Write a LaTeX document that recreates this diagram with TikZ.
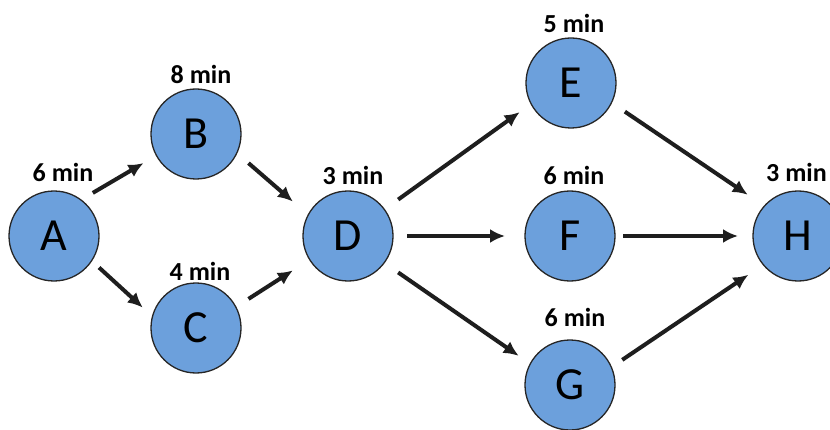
\documentclass[tikz,border=0pt]{standalone}
\usepackage{fontspec}
\setmainfont{Carlito}
\usetikzlibrary{calc,arrows.meta}
\definecolor{nodeblue}{RGB}{108,160,220}
\definecolor{arrowgray}{RGB}{30,30,30}
\tikzset{
  task/.style={circle,draw=black!85,line width=1.3pt,fill=nodeblue,minimum size=90pt,inner sep=0pt,font=\fontsize{46}{46}\selectfont},
  lbl/.style={font=\fontsize{26}{26}\selectfont\bfseries,inner sep=0pt},
  arr/.style={draw=arrowgray,line width=4pt,-{Latex[length=15pt,width=14pt]}}
}
\begin{document}
\begin{tikzpicture}[x=1pt,y=1pt]
\useasboundingbox[fill=white] (0,0) rectangle (830,429);
\begin{scope}
\clip (0,0) rectangle (830,429);
\node[task] (A) at (54,193) {A};
\node[task] (B) at (196,295) {B};
\node[task] (C) at (196,101) {C};
\node[task] (D) at (348,193) {D};
\node[task] (E) at (571,346) {E};
\node[task] (F) at (570,193) {F};
\node[task] (G) at (570,44) {G};
\node[task] (H) at (798,193) {H};
\node[lbl] (lA) at (63,257) {6 min};
\node[lbl] (lB) at (201,355) {8 min};
\node[lbl] (lC) at (200,158) {4 min};
\node[lbl] (lD) at (353,254) {3 min};
\node[lbl] (lE) at (574,406) {5 min};
\node[lbl] (lF) at (574,254) {6 min};
\node[lbl] (lG) at (575,112) {6 min};
\node[lbl,anchor=west] (lH) at (766,257) {3 min};
\draw[arr] ($(A)+(48:58pt)$) -- ($(B)+(209:60pt)$);
\draw[arr] ($(A)+(-35:55pt)$) -- ($(C)+(159:57pt)$);
\draw[arr] ($(B)+(-29:60pt)$) -- ($(D)+(148:65pt)$);
\draw[arr] ($(C)+(29:60pt)$) -- ($(D)+(212:65pt)$);
\draw[arr] ($(D)+(36:62pt)$) -- ($(E)+(209.6:59pt)$);
\draw[arr] ($(D)+(0:59pt)$) -- ($(F)+(180:65pt)$);
\draw[arr] ($(D)+(-36:62pt)$) -- ($(G)+(150.4:59pt)$);
\draw[arr] ($(E)+(-28:61pt)$) -- ($(H)+(140.6:65pt)$);
\draw[arr] ($(F)+(0:53pt)$) -- ($(H)+(180:60pt)$);
\draw[arr] ($(G)+(25.7:58pt)$) -- ($(H)+(218:63pt)$);
\end{scope}
\end{tikzpicture}
\end{document}
